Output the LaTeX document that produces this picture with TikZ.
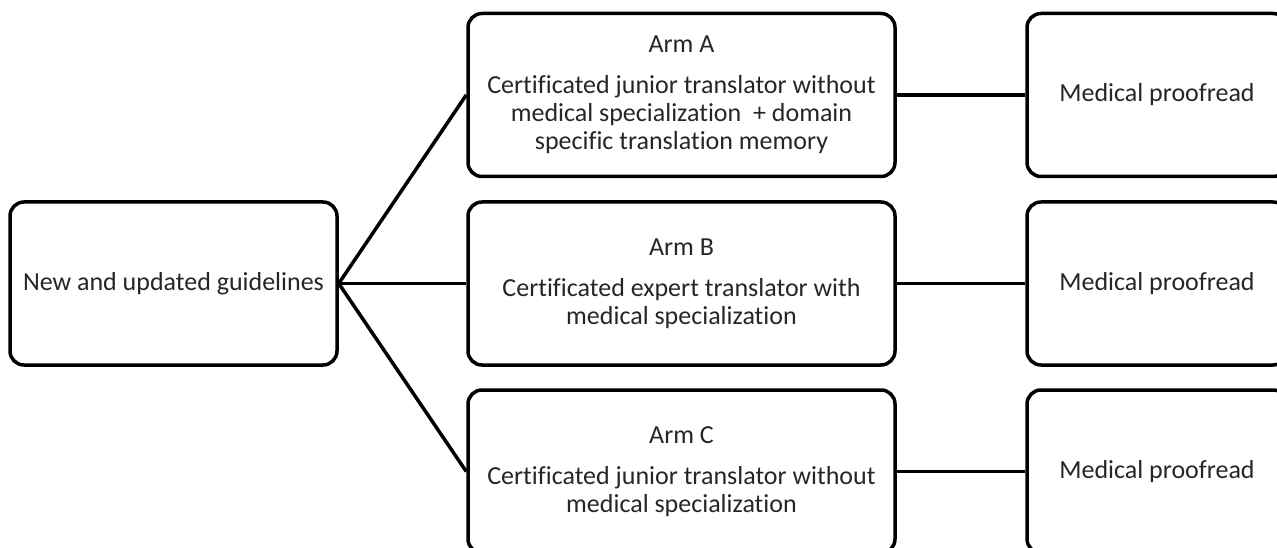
\documentclass[tikz,border=0pt]{standalone}
\usepackage{fontspec}
\setmainfont{Carlito}[Ligatures=CommonOff]
\begin{document}
\begin{tikzpicture}[x=1pt, y=-1pt, font=\fontsize{26}{28}\selectfont,
    box/.style={draw, line width=3.5pt, rounded corners=14pt, align=center,
      inner sep=0pt, minimum height=163pt, text=black!85},
    link/.style={line width=3.5pt}]
    \useasboundingbox (0,0) rectangle (1277,548);
    \clip (0,0) rectangle (1277,548);
    \node[box, minimum width=327pt] (guide) at (173.5,283.5) {New and updated guidelines};
    \node[box, minimum width=427pt] (armA) at (681.5,95)
      {Arm A\\[13pt]Certificated junior translator without\\medical specialization~ + domain\\specific translation memory};
    \node[box, minimum width=427pt] (armB) at (681.5,283.5)
      {Arm B\\[13pt]Certificated expert translator with\\medical specialization};
    \node[box, minimum width=427pt] (armC) at (681.5,471.5)
      {Arm C\\[13pt]Certificated junior translator without\\medical specialization};
    \foreach \arm/\y in {A/95,B/283.5,C/471.5} {
      \node[box, minimum width=260pt] (proof\arm) at (1157,\y) {Medical proofread};
      \draw[link] (guide.east) -- (arm\arm.west);
      \draw[link] (arm\arm.east) -- (proof\arm.west);
    }
\end{tikzpicture}
\end{document}
